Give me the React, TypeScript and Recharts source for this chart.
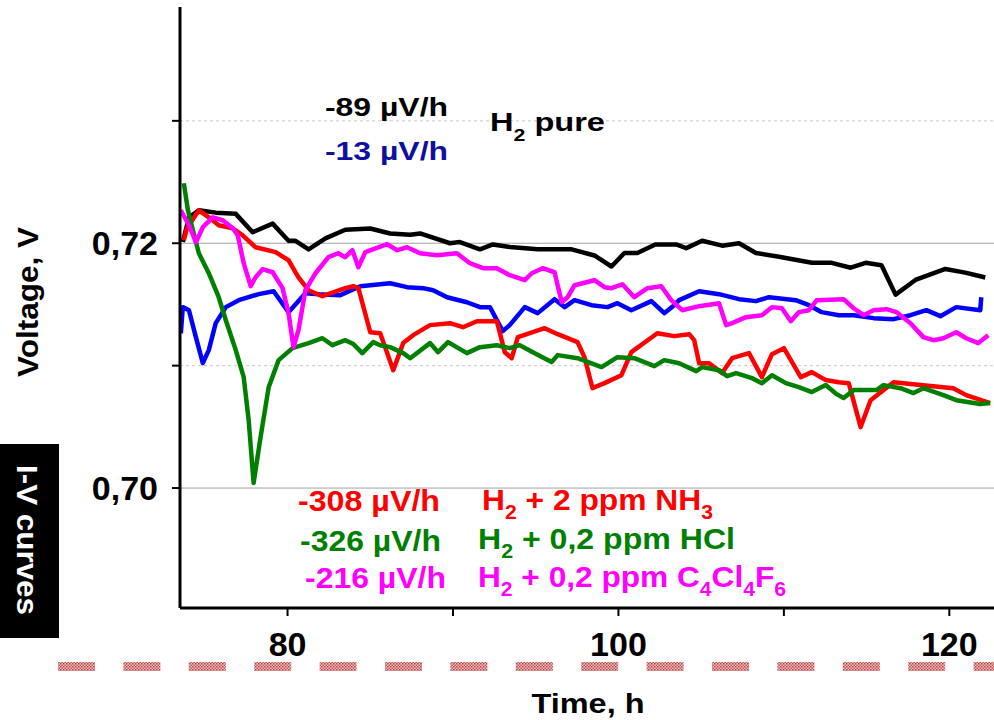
import { LineChart, Line, XAxis, YAxis, ReferenceLine } from 'recharts'

// axis ticks (only some of them carry a label)
const xTicks = [80, 90, 100, 110, 120]
const xLabelled = [80, 100, 120]
const yTicks = [0.7, 0.71, 0.72, 0.73]
const yLabelled = [0.7, 0.72]

// [time h, voltage V]
const pureBlack: [number, number][] = [
  [73.67, 0.7201], [74.04, 0.7221], [74.64, 0.7227], [75.66, 0.7225], [76.87, 0.7224],
  [77.89, 0.7209], [79.1, 0.7216], [80.06, 0.7202], [80.48, 0.7202], [81.27, 0.7195],
  [82.29, 0.7204], [83.49, 0.7211], [85.0, 0.7212], [86.2, 0.7208], [87.41, 0.7207],
  [88.01, 0.7208], [89.82, 0.72], [90.42, 0.7201], [91.63, 0.7195], [92.41, 0.7199],
  [93.43, 0.7197], [95.12, 0.7195], [97.17, 0.7195], [98.55, 0.719], [99.58, 0.7181],
  [100.36, 0.7192], [101.14, 0.7192], [102.23, 0.7199], [103.49, 0.7199], [104.1, 0.7196],
  [105.06, 0.7202], [106.27, 0.7198], [107.29, 0.72], [108.31, 0.7192], [109.7, 0.7189],
  [111.69, 0.7184], [112.89, 0.7184], [114.04, 0.718], [114.94, 0.7184], [115.9, 0.7182],
  [116.75, 0.7158], [117.95, 0.717], [119.76, 0.7179], [120.96, 0.7176], [121.87, 0.7173],
  [122.17, 0.7172],
]

const pureBlue: [number, number][] = [
  [73.55, 0.71265], [73.67, 0.71478], [74.04, 0.71453], [74.46, 0.71233], [74.88, 0.7102],
  [75.24, 0.71127], [75.66, 0.71347], [76.27, 0.71478], [77.05, 0.71535], [78.25, 0.71584],
  [79.16, 0.71608], [80.06, 0.71437], [81.08, 0.71592], [81.87, 0.71584], [83.19, 0.71576],
  [84.4, 0.71649], [86.2, 0.71673], [87.23, 0.71641], [88.19, 0.71633], [88.8, 0.71616],
  [89.64, 0.71559], [90.84, 0.71518], [91.63, 0.71478], [92.23, 0.71478], [93.01, 0.71282],
  [93.43, 0.71331], [94.34, 0.71478], [95.12, 0.71429], [96.14, 0.71543], [96.75, 0.71478],
  [97.35, 0.71535], [98.37, 0.71494], [99.34, 0.71478], [99.94, 0.7151], [100.78, 0.71453],
  [101.99, 0.71527], [102.77, 0.71429], [103.37, 0.71494], [103.67, 0.71535], [104.88, 0.71608],
  [106.08, 0.71584], [107.29, 0.71543], [108.31, 0.71527], [109.1, 0.71559], [110.72, 0.71535],
  [111.51, 0.71494], [112.29, 0.71437], [113.31, 0.71412], [114.22, 0.71412], [115.42, 0.71388],
  [116.63, 0.7138], [117.65, 0.71412], [118.61, 0.71453], [119.46, 0.71404], [120.42, 0.71478],
  [121.87, 0.71453], [121.93, 0.71559],
]

const ammonia: [number, number][] = [
  [73.73, 0.72024], [73.92, 0.72122], [74.64, 0.72269], [75.24, 0.72212], [75.84, 0.72147],
  [76.69, 0.72122], [77.29, 0.72065], [78.07, 0.71967], [79.28, 0.71927], [80.06, 0.71861],
  [80.66, 0.71722], [81.27, 0.71616], [82.11, 0.71567], [83.49, 0.71633], [83.98, 0.71649],
  [84.28, 0.71633], [85.0, 0.71273], [85.6, 0.71265], [86.39, 0.70963], [86.99, 0.71184],
  [87.59, 0.71249], [88.61, 0.71331], [89.82, 0.71347], [90.6, 0.71314], [91.45, 0.71363],
  [92.65, 0.71363], [93.13, 0.7111], [93.55, 0.71061], [93.92, 0.71233], [95.54, 0.71306],
  [96.33, 0.71257], [97.53, 0.71192], [97.95, 0.71069], [98.43, 0.70816], [99.16, 0.70857],
  [100.18, 0.70922], [100.78, 0.7111], [102.35, 0.71265], [103.37, 0.71241], [104.28, 0.71257],
  [104.58, 0.71208], [104.88, 0.7102], [105.48, 0.7102], [106.27, 0.70939], [106.87, 0.71061],
  [107.89, 0.71102], [108.67, 0.70906], [109.28, 0.71094], [110.0, 0.71143], [111.02, 0.70906],
  [111.69, 0.70947], [112.53, 0.70882], [113.31, 0.70865], [113.92, 0.70857], [114.64, 0.70498],
  [115.24, 0.70718], [116.63, 0.70865], [118.25, 0.70841], [120.24, 0.70816], [121.02, 0.70759],
  [122.47, 0.70694],
]

const hcl: [number, number][] = [
  [73.73, 0.7249], [73.98, 0.72269], [74.28, 0.72106], [74.64, 0.71918], [75.24, 0.71755],
  [75.84, 0.71559], [76.27, 0.71371], [76.87, 0.71127], [77.35, 0.70906], [77.65, 0.70555],
  [77.95, 0.70041], [78.37, 0.70416], [78.86, 0.70824], [79.46, 0.71045], [80.3, 0.71143],
  [81.27, 0.71184], [82.11, 0.71224], [82.71, 0.71167], [83.49, 0.71208], [83.98, 0.71176],
  [84.52, 0.71102], [85.18, 0.71192], [85.6, 0.71167], [86.2, 0.71151], [86.99, 0.71102],
  [87.41, 0.71061], [88.61, 0.71184], [89.1, 0.7111], [89.7, 0.71192], [90.84, 0.71102],
  [91.63, 0.71151], [92.65, 0.71167], [93.43, 0.71143], [94.04, 0.71167], [94.94, 0.71102],
  [95.96, 0.71029], [96.33, 0.71086], [97.53, 0.71061], [98.98, 0.70988], [99.94, 0.71069],
  [100.96, 0.71061], [102.17, 0.70996], [102.77, 0.71045], [103.67, 0.7102], [104.7, 0.70955],
  [105.06, 0.70988], [106.08, 0.70963], [106.57, 0.70914], [107.11, 0.70939], [108.07, 0.70898],
  [108.67, 0.70857], [109.28, 0.70922], [110.12, 0.70857], [110.9, 0.70824], [111.69, 0.70784],
  [112.53, 0.70841], [113.19, 0.70767], [113.61, 0.70735], [114.22, 0.708], [115.6, 0.708],
  [116.02, 0.70841], [117.05, 0.70816], [117.83, 0.70776], [118.43, 0.70816], [119.64, 0.70759],
  [120.42, 0.70718], [121.87, 0.70686], [122.47, 0.70694],
]

const c4cl4f6: [number, number][] = [
  [73.55, 0.72269], [74.04, 0.72147], [74.46, 0.72008], [74.88, 0.72131], [75.48, 0.72212],
  [76.08, 0.72188], [76.69, 0.72122], [76.99, 0.72065], [77.35, 0.71837], [77.77, 0.71649],
  [78.07, 0.71722], [78.49, 0.71788], [79.1, 0.71763], [79.7, 0.71633], [80.06, 0.71429],
  [80.36, 0.71151], [80.66, 0.7129], [81.08, 0.71616], [81.69, 0.71755], [82.47, 0.71886],
  [83.07, 0.71918], [83.49, 0.71886], [83.92, 0.71943], [84.28, 0.71804], [84.7, 0.71927],
  [86.02, 0.71992], [86.63, 0.71943], [87.23, 0.71967], [88.01, 0.71918], [89.04, 0.71902],
  [90.24, 0.71918], [91.02, 0.71837], [91.81, 0.71796], [92.65, 0.71796], [93.43, 0.71739],
  [94.34, 0.71698], [94.76, 0.71755], [95.42, 0.71796], [96.14, 0.71763], [96.57, 0.71518],
  [96.93, 0.71559], [97.35, 0.71657], [98.55, 0.71698], [99.16, 0.71641], [99.58, 0.71633],
  [100.24, 0.71665], [100.96, 0.71559], [101.75, 0.71633], [102.59, 0.71649], [103.19, 0.71535],
  [103.86, 0.71453], [104.88, 0.71486], [106.08, 0.7151], [106.51, 0.71331], [106.87, 0.71347],
  [107.71, 0.71396], [108.67, 0.71412], [109.28, 0.71478], [109.88, 0.71469], [110.42, 0.71363],
  [110.9, 0.71437], [111.51, 0.71453], [111.99, 0.71535], [113.61, 0.71543], [114.22, 0.71469],
  [114.82, 0.71412], [115.42, 0.71453], [116.2, 0.71461], [116.81, 0.71437], [117.65, 0.71347],
  [118.43, 0.71233], [119.04, 0.71208], [119.64, 0.71224], [120.42, 0.71273], [121.02, 0.71224],
  [121.75, 0.71184], [122.35, 0.71249],
]

const series = [
  { name: 'H2 pure (a)', points: pureBlack, color: '#000000' },
  { name: 'H2 pure (b)', points: pureBlue, color: '#0000ff' },
  { name: 'H2 + 2 ppm NH3', points: ammonia, color: '#ff0000' },
  { name: 'H2 + 0,2 ppm HCl', points: hcl, color: '#008000' },
  { name: 'H2 + 0,2 ppm C4Cl4F6', points: c4cl4f6, color: '#ff00ff' },
]

const font = '"Liberation Sans", Arial, sans-serif'

export default function App() {
  return (
    <div style={{ position: 'absolute', left: 0, top: 0, width: 994, height: 720, background: '#fff' }}>
      <LineChart width={994} height={720} margin={{ top: 7, right: 0, bottom: 0, left: 0 }}>
        <XAxis
          type='number'
          dataKey='t'
          domain={[73.5, 122.7]}
          allowDataOverflow
          ticks={xTicks}
          tickFormatter={(v) => (xLabelled.includes(v) ? String(v) : '')}
          height={112}
          axisLine={{ stroke: '#000', strokeWidth: 3 }}
          tickLine={{ stroke: '#000', strokeWidth: 2 }}
          tickSize={8}
          tickMargin={16}
          tick={{ fill: '#000', fontSize: 34, fontWeight: 700, fontFamily: font }}
        />
        <YAxis
          type='number'
          dataKey='v'
          domain={[0.6902, 0.7393]}
          allowDataOverflow
          ticks={yTicks}
          tickFormatter={(v) => (yLabelled.includes(v) ? v.toFixed(2).replace('.', ',') : '')}
          width={180}
          axisLine={{ stroke: '#000', strokeWidth: 3 }}
          tickLine={{ stroke: '#000', strokeWidth: 2 }}
          tickSize={8}
          tickMargin={14}
          tick={{ fill: '#000', fontSize: 34, fontWeight: 700, fontFamily: font }}
        />
        <ReferenceLine y={0.73} stroke='#c8c8c8' strokeDasharray='3 3' />
        <ReferenceLine y={0.72} stroke='#a0a0a0' />
        <ReferenceLine y={0.71} stroke='#c8c8c8' strokeDasharray='3 3' />
        <ReferenceLine y={0.7} stroke='#a0a0a0' />
        {series.map((s) => (
          <Line
            key={s.name}
            name={s.name}
            data={s.points.map(([t, v]) => ({ t, v }))}
            dataKey='v'
            type='linear'
            stroke={s.color}
            strokeWidth={4.5}
            strokeLinejoin='round'
            dot={false}
            activeDot={false}
            isAnimationActive={false}
          />
        ))}
      </LineChart>

      <svg
        width={994}
        height={720}
        style={{ position: 'absolute', left: 0, top: 0, pointerEvents: 'none' }}
        fontFamily={font}
        fontWeight={700}
      >
        <defs>
          <pattern id='hatch' width='3' height='3' patternUnits='userSpaceOnUse'>
            <rect width='3' height='3' fill='#eec0c0' />
            <rect width='1.5' height='1.5' fill='#b84040' />
            <rect x='1.5' y='1.5' width='1.5' height='1.5' fill='#c85a5a' />
          </pattern>
        </defs>

        {/* axis titles */}
        <text transform='translate(38, 302) rotate(-90)' textAnchor='middle' fontSize={30} textLength={150} lengthAdjust='spacingAndGlyphs'>
          Voltage, V
        </text>
        <text x={588} y={713} textAnchor='middle' fontSize={28} textLength={113} lengthAdjust='spacingAndGlyphs'>
          Time, h
        </text>

        {/* I-V curves tab */}
        <rect x={0} y={444} width={59} height={194} fill='#000' />
        <text transform='translate(17, 540) rotate(90)' textAnchor='middle' fontSize={30} fill='#fff' textLength={150} lengthAdjust='spacingAndGlyphs'>
          I-V curves
        </text>

        <line x1={58} x2={994} y1={666.5} y2={666.5} stroke='url(#hatch)' strokeWidth={9} strokeDasharray='37 28.4' />

        {/* rates, upper group */}
        <text x={325} y={116} fontSize={26} fill='#000' textLength={123} lengthAdjust='spacingAndGlyphs'>-89 µV/h</text>
        <text x={325} y={160} fontSize={26} fill='#1010a0' textLength={123} lengthAdjust='spacingAndGlyphs'>-13 µV/h</text>
        <text x={490} y={131} fontSize={26} fill='#000' textLength={115} lengthAdjust='spacingAndGlyphs'>
          H<tspan fontSize={17} dy={10}>2</tspan><tspan dy={-10}> pure</tspan>
        </text>

        {/* rates, lower group */}
        <text x={298} y={511} fontSize={30} fill='#ff0000' textLength={142} lengthAdjust='spacingAndGlyphs'>-308 µV/h</text>
        <text x={482} y={510} fontSize={30} fill='#ff0000' textLength={231} lengthAdjust='spacingAndGlyphs'>
          H<tspan fontSize={20} dy={9}>2</tspan><tspan dy={-9}> + 2 ppm NH</tspan><tspan fontSize={20} dy={9}>3</tspan>
        </text>
        <text x={300} y={551} fontSize={30} fill='#008000' textLength={141} lengthAdjust='spacingAndGlyphs'>-326 µV/h</text>
        <text x={478} y={549} fontSize={30} fill='#008000' textLength={257} lengthAdjust='spacingAndGlyphs'>
          H<tspan fontSize={20} dy={9}>2</tspan><tspan dy={-9}> + 0,2 ppm HCl</tspan>
        </text>
        <text x={305} y={588} fontSize={30} fill='#ff00ff' textLength={141} lengthAdjust='spacingAndGlyphs'>-216 µV/h</text>
        <text x={478} y={587} fontSize={30} fill='#ff00ff' textLength={308} lengthAdjust='spacingAndGlyphs'>
          H<tspan fontSize={20} dy={9}>2</tspan><tspan dy={-9}> + 0,2 ppm C</tspan>
          <tspan fontSize={20} dy={9}>4</tspan><tspan dy={-9}>Cl</tspan>
          <tspan fontSize={20} dy={9}>4</tspan><tspan dy={-9}>F</tspan>
          <tspan fontSize={20} dy={9}>6</tspan>
        </text>
      </svg>
    </div>
  )
}
